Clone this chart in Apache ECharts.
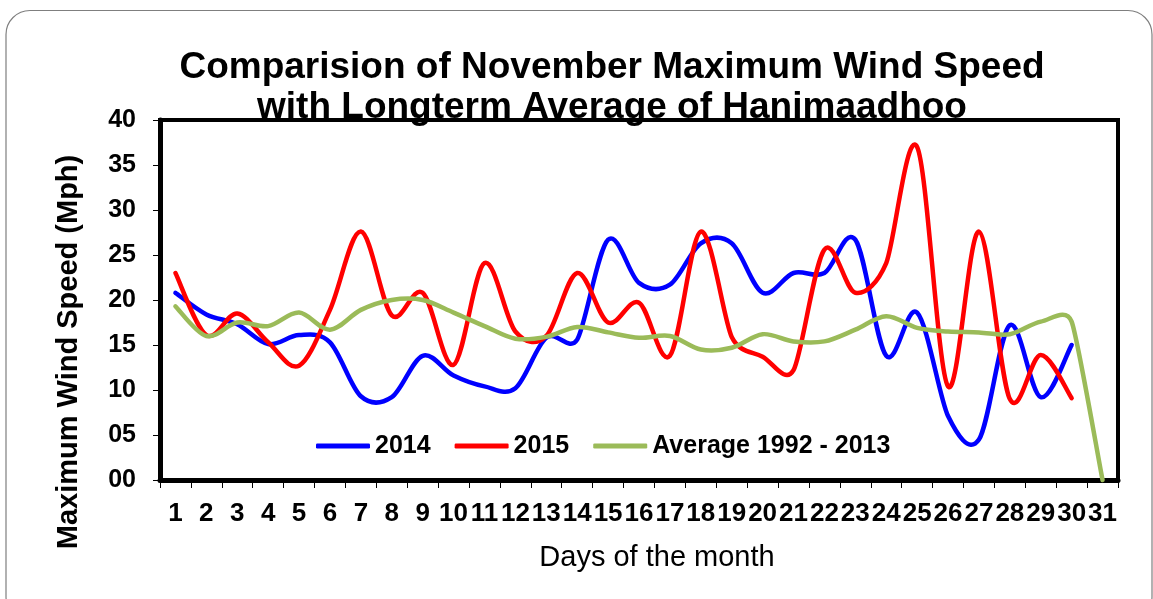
<!DOCTYPE html>
<html>
<head>
<meta charset="utf-8">
<title>November Maximum Wind Speed - Hanimaadhoo</title>
<script src="https://cdn.jsdelivr.net/npm/echarts@6/dist/echarts.min.js"></script>
<style>
  html, body { margin: 0; padding: 0; background: #fff; }
  #chart { width: 1153px; height: 599px; }
</style>
</head>
<body>
<div id="chart"></div>
<script>
// days of November (plus 31 for the long term line)
const days = ['1', '2', '3', '4', '5', '6', '7', '8', '9', '10', '11', '12', '13', '14', '15', '16',
    '17', '18', '19', '20', '21', '22', '23', '24', '25', '26', '27', '28', '29', '30', '31']

// max wind speed (mph)
const speed2014 = [20.8, 18.4, 17.3, 15.1, 16.1, 15.3, 9.3, 9.2, 13.8, 11.6, 10.4, 10.2, 15.8, 15.6, 26.7,
    21.9, 21.7, 26.3, 26.3, 20.8, 23.0, 23.0, 26.7, 13.8, 18.6, 7.1, 4.5, 17.2, 9.2, 15.0, null]
const speed2015 = [23.0, 16.1, 18.5, 15.3, 12.7, 18.9, 27.6, 18.3, 20.8, 12.8, 24.1, 16.5, 16.0, 23.0, 17.5,
    19.7, 13.8, 27.6, 15.9, 13.7, 12.2, 25.6, 20.8, 24.1, 37.0, 10.4, 27.6, 9.0, 13.9, 9.1, null]
const speedAvg = [19.3, 16.0, 17.5, 17.1, 18.6, 16.7, 18.9, 20.0, 20.0, 18.6, 17.1, 15.7, 15.9, 17.0, 16.4,
    15.8, 16.0, 14.5, 14.7, 16.2, 15.4, 15.4, 16.7, 18.2, 16.9, 16.5, 16.4, 16.2, 17.6, 17.6, 0]

const font = 'Liberation Sans, Arial, sans-serif'

const chart = echarts.init(document.getElementById('chart'))

function dist(a, b) {
    return Math.hypot(a[0] - b[0], a[1] - b[1])
}

// tangent factor like excel: 1/6 of the chord, but never more than half a neighbour segment
function tangentScale(p0, p1, p2) {
    const d02 = dist(p0, p2)
    if (!d02) return 0
    return Math.min(1 / 6, dist(p0, p1) / (2 * d02), dist(p1, p2) / (2 * d02))
}

// smoothed path through every point
function curvePath(pts) {
    if (!pts.length) return ''
    const n = pts.length
    const tan = pts.map((p, i) => {
        const a = pts[Math.max(i - 1, 0)]
        const b = pts[Math.min(i + 1, n - 1)]
        const k = (i === 0 || i === n - 1) ? 1 / 6 : tangentScale(a, p, b)
        return [(b[0] - a[0]) * k, (b[1] - a[1]) * k]
    })
    let d = 'M' + pts[0][0] + ' ' + pts[0][1]
    for (let i = 0; i < n - 1; i++) {
        const p1 = pts[i]
        const p2 = pts[i + 1]
        d += ' C' + (p1[0] + tan[i][0]) + ' ' + (p1[1] + tan[i][1]) + ' ' +
            (p2[0] - tan[i + 1][0]) + ' ' + (p2[1] - tan[i + 1][1]) + ' ' + p2[0] + ' ' + p2[1]
    }
    return d
}

function lineSeries(name, values, color) {
    return {
        name: name,
        type: 'custom',
        coordinateSystem: 'cartesian2d',
        data: values.map((v, i) => [i, v == null ? 0 : v]),
        encode: { x: 0, y: 1 },
        itemStyle: { color: color },
        renderItem: (params, api) => {
            if (params.dataIndex !== 0) return null
            const pts = []
            values.forEach((v, i) => {
                if (v != null) pts.push(api.coord([i, v]))
            })
            return {
                type: 'path',
                shape: { pathData: curvePath(pts) },
                style: { stroke: color, lineWidth: 4.5, fill: 'none', lineCap: 'round', lineJoin: 'round' }
            }
        }
    }
}

chart.setOption({
    animation: false,
    title: {
        text: 'Comparision of November Maximum Wind Speed\nwith Longterm Average of Hanimaadhoo',
        left: 612,
        textAlign: 'center',
        top: 48,
        padding: 0,
        textStyle: {
            fontFamily: font,
            fontSize: 37,
            fontWeight: 'bold',
            lineHeight: 40,
            color: '#000'
        }
    },
    legend: {
        data: ['2014', '2015', 'Average 1992 - 2013'],
        left: 316,
        top: 432,
        padding: 0,
        icon: 'roundRect',
        itemWidth: 54,
        itemHeight: 5,
        itemGap: 24,
        textStyle: {
            fontFamily: font,
            fontSize: 25,
            fontWeight: 'bold',
            lineHeight: 28,
            color: '#000'
        }
    },
    grid: {
        show: true,
        left: 160,
        right: 35,
        top: 120,
        bottom: 119,
        borderColor: '#000',
        borderWidth: 4,
        backgroundColor: 'transparent'
    },
    xAxis: {
        type: 'category',
        data: days,
        boundaryGap: true,
        axisLine: { lineStyle: { color: '#000', width: 5 } },
        axisTick: { show: true, length: 8, lineStyle: { color: '#000', width: 1 } },
        axisLabel: {
            interval: 0,
            margin: 21,
            fontFamily: font,
            fontSize: 26,
            fontWeight: 'bold',
            color: '#000'
        },
        splitLine: { show: false }
    },
    yAxis: {
        type: 'value',
        min: 0,
        max: 40,
        interval: 5,
        axisLine: { show: true, lineStyle: { color: '#000', width: 5 } },
        axisTick: { show: true, length: 7, lineStyle: { color: '#000', width: 1 } },
        axisLabel: {
            margin: 24,
            fontFamily: font,
            fontSize: 25,
            fontWeight: 'bold',
            color: '#000',
            formatter: v => String(v).padStart(2, '0')
        },
        splitLine: { show: false }
    },
    graphic: [
        {
            type: 'rect',
            silent: true,
            shape: { x: 6, y: 10.5, width: 1146, height: 610, r: 24 },
            style: { fill: 'none', stroke: '#7f7f7f', lineWidth: 1.2 }
        },
        {
            type: 'text',
            x: 69,
            y: 352,
            rotation: Math.PI / 2,
            style: {
                text: 'Maximum Wind Speed (Mph)',
                font: 'bold 29px ' + font,
                fill: '#000',
                align: 'center',
                verticalAlign: 'middle'
            }
        },
        {
            type: 'text',
            x: 657,
            y: 558,
            style: {
                text: 'Days of the month',
                font: '29px ' + font,
                fill: '#000',
                align: 'center',
                verticalAlign: 'middle'
            }
        }
    ],
    series: [
        lineSeries('2014', speed2014, '#0000FF'),
        lineSeries('2015', speed2015, '#FF0000'),
        lineSeries('Average 1992 - 2013', speedAvg, '#9BBB59')
    ]
})

window.addEventListener('resize', () => chart.resize())
</script>
</body>
</html>
